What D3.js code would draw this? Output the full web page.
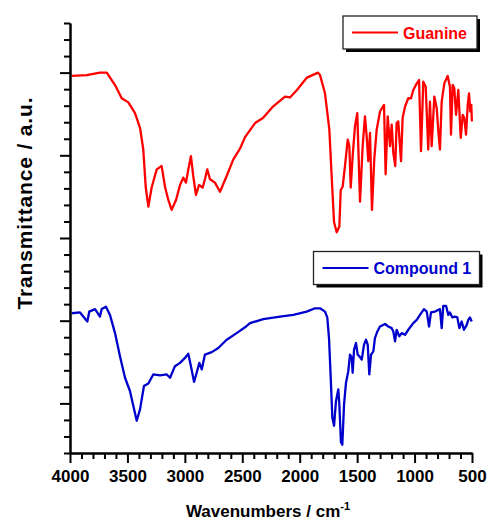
<!DOCTYPE html>
<html>
<head>
<meta charset="utf-8">
<script src="https://cdn.jsdelivr.net/npm/d3@7/dist/d3.min.js"></script>
<style>
  html, body { margin: 0; padding: 0; background: #ffffff; }
  svg { display: block; font-family: "Liberation Sans", Arial, sans-serif; }
</style>
</head>
<body>
<svg id="chart" width="489" height="520"></svg>
<script>
// FT-IR spectra: wavenumber (cm^-1) and transmittance (arbitrary units, offset)
const guanineWn = [3985,3855,3739,3680,3608,3550,3492,3434,3390,3362,3341,3318,3289,3245,3202,3173,3144,3115,3077,3042,3014,2990,2970,2947,2927,2903,2877,2845,2825,2805,2781,2738,2694,2636,2578,2520,2476,2389,2320,2233,2128,2085,2024,1937,1841,1823,1780,1742,1722,1701,1678,1655,1643,1626,1606,1582,1568,1556,1539,1519,1499,1475,1452,1432,1417,1403,1388,1371,1351,1330,1301,1266,1252,1234,1214,1199,1185,1168,1156,1142,1118,1104,1083,1055,1031,1011,981,961,944,924,903,881,866,851,828,807,793,779,764,741,712,692,683,668,654,639,619,598,581,567,552,537,526,515,506,501];
const guanineT  = [3.96,3.97,4.00,4.00,3.85,3.69,3.64,3.51,3.33,3.07,2.62,2.38,2.61,2.83,2.87,2.62,2.46,2.34,2.46,2.64,2.73,2.67,2.83,2.99,2.75,2.52,2.64,2.61,2.71,2.83,2.71,2.67,2.56,2.75,2.95,3.08,3.22,3.39,3.45,3.59,3.71,3.70,3.79,3.94,4.00,3.97,3.75,3.31,2.75,2.19,2.07,2.14,2.58,2.62,2.87,3.19,3.11,2.61,2.99,3.35,3.51,2.44,3.11,3.47,3.23,2.93,3.27,2.34,2.95,3.31,3.53,3.61,2.77,3.47,3.11,3.37,3.03,2.87,3.39,3.41,2.93,3.45,3.59,3.69,3.69,3.79,3.87,3.91,3.05,3.89,3.83,3.07,3.65,3.11,3.71,3.57,3.29,3.07,3.65,3.87,3.96,3.83,3.25,3.85,3.81,3.49,3.79,3.21,3.49,3.45,3.25,3.61,3.75,3.53,3.61,3.41];

const compoundWn = [3985,3913,3849,3832,3782,3739,3724,3687,3652,3608,3565,3521,3478,3449,3419,3390,3356,3318,3275,3216,3158,3129,3086,3042,2999,2970,2947,2920,2897,2874,2853,2825,2766,2709,2636,2549,2476,2433,2317,2172,2056,1939,1867,1823,1780,1760,1745,1730,1716,1701,1684,1664,1655,1641,1629,1614,1597,1577,1562,1547,1539,1527,1510,1495,1481,1460,1440,1423,1408,1394,1379,1359,1345,1324,1301,1257,1229,1199,1185,1170,1156,1133,1112,1083,1055,1011,981,953,918,894,874,857,822,779,764,750,726,706,692,671,648,628,610,590,570,546,532,518,502];
const compoundT  = [1.09,1.10,0.99,1.11,1.14,1.05,1.14,1.17,1.07,0.85,0.57,0.31,0.15,-0.03,-0.21,-0.07,0.21,0.24,0.35,0.34,0.35,0.31,0.45,0.49,0.55,0.60,0.45,0.26,0.37,0.49,0.41,0.59,0.62,0.67,0.77,0.85,0.92,0.97,1.02,1.05,1.07,1.11,1.15,1.15,1.11,1.04,0.79,0.31,-0.17,-0.27,0.03,0.17,-0.01,-0.47,-0.50,-0.01,0.25,0.39,0.59,0.55,0.37,0.65,0.73,0.59,0.57,0.53,0.71,0.77,0.71,0.35,0.59,0.63,0.79,0.87,0.93,0.96,0.93,0.91,0.87,0.75,0.89,0.81,0.85,0.83,0.89,0.97,1.01,1.07,1.14,1.11,0.93,1.10,1.11,1.14,0.91,1.18,1.18,1.07,1.10,1.04,1.05,1.04,0.91,0.99,0.89,0.95,1.01,1.04,0.99];

const seriesNames  = ["Guanine", "Compound 1"];
const seriesColors = ["#ff0000", "#0000cc"];

const xTickLabels = [4000, 3500, 3000, 2500, 2000, 1500, 1000, 500];
const yMajorTicks = [0, 1, 2, 3, 4];

const W = 489, H = 520;
const margin = { left: 70, right: 17, top: 23, bottom: 67 };

const svg = d3.select("#chart");

const x = d3.scaleLinear().domain([4000, 500]).range([margin.left, W - margin.right]);
const y = d3.scaleLinear().domain([-0.6, 4.6]).range([H - margin.bottom, margin.top]);

const xMinor = d3.range(4000, 499, -100).filter(v => !xTickLabels.includes(v));
const yMinor = d3.range(-6, 47, 2).map(v => v / 10).filter(v => !yMajorTicks.includes(v));

// Spectra
const line = d3.line().x(d => x(d[0])).y(d => y(d[1]));
const spectra = [
  d3.zip(guanineWn, guanineT),
  d3.zip(compoundWn, compoundT)
];
svg.append("g")
  .selectAll("path")
  .data(spectra)
  .join("path")
  .attr("d", line)
  .attr("fill", "none")
  .attr("stroke", (d, i) => seriesColors[i])
  .attr("stroke-width", 2.3)
  .attr("stroke-linejoin", "round");

// Axes
function styleAxis(g) {
  g.selectAll("path.domain").attr("stroke", "#000").attr("stroke-width", 2);
  g.selectAll(".tick line").attr("stroke", "#000").attr("stroke-width", 2);
}

const xAxisY = H - margin.bottom;
svg.append("g")
  .attr("transform", `translate(0,${xAxisY})`)
  .call(d3.axisBottom(x).tickValues(xMinor).tickSize(6).tickSizeOuter(0).tickFormat(""))
  .call(styleAxis);
svg.append("g")
  .attr("transform", `translate(0,${xAxisY})`)
  .call(d3.axisBottom(x).tickValues(xTickLabels).tickSize(10).tickSizeOuter(0).tickPadding(7).tickFormat(d3.format("d")))
  .call(styleAxis)
  .call(g => g.selectAll(".tick text")
    .attr("font-family", "'Liberation Sans', Arial, sans-serif")
    .attr("font-size", 17)
    .attr("font-weight", "bold")
    .attr("fill", "#000"));

svg.append("g")
  .attr("transform", `translate(${margin.left},0)`)
  .call(d3.axisLeft(y).tickValues(yMinor).tickSize(6).tickSizeOuter(0).tickFormat(""))
  .call(styleAxis);
svg.append("g")
  .attr("transform", `translate(${margin.left},0)`)
  .call(d3.axisLeft(y).tickValues(yMajorTicks).tickSize(10).tickSizeOuter(0).tickFormat(""))
  .call(styleAxis);

// Axis titles
const xTitle = svg.append("text")
  .attr("x", 268)
  .attr("y", 517)
  .attr("text-anchor", "middle")
  .attr("font-size", 17)
  .attr("font-weight", "bold")
  .attr("fill", "#000");
xTitle.append("tspan").text("Wavenumbers / cm");
xTitle.append("tspan").attr("dy", -7).attr("font-size", 11).text("-1");

svg.append("text")
  .attr("transform", `translate(31.5,${(97 + 310) / 2}) rotate(-90)`)
  .attr("text-anchor", "middle")
  .attr("font-size", 21)
  .attr("font-weight", "bold")
  .attr("fill", "#000")
  .attr("textLength", 212)
  .attr("lengthAdjust", "spacing")
  .text("Transmittance / a.u.");

// Legend boxes
const legends = [
  { x0: 343, y0: 16, w: 134, h: 33 },
  { x0: 313.5, y0: 251.5, w: 166, h: 33 }
];
legends.forEach((b, i) => {
  const g = svg.append("g");
  g.append("rect")
    .attr("x", b.x0 + 3).attr("y", b.y0 + 3)
    .attr("width", b.w).attr("height", b.h)
    .attr("fill", "#000");
  g.append("rect")
    .attr("x", b.x0).attr("y", b.y0)
    .attr("width", b.w).attr("height", b.h)
    .attr("fill", "#fff")
    .attr("stroke", "#222")
    .attr("stroke-width", 1.3);
  const ly = b.y0 + b.h / 2;
  g.append("line")
    .attr("x1", b.x0 + 9).attr("x2", b.x0 + 55)
    .attr("y1", ly).attr("y2", ly)
    .attr("stroke", seriesColors[i])
    .attr("stroke-width", 2.2);
  g.append("text")
    .attr("x", b.x0 + 60)
    .attr("y", ly + 6)
    .attr("font-size", 16)
    .attr("font-weight", "bold")
    .attr("fill", seriesColors[i])
    .text(seriesNames[i]);
});
</script>
</body>
</html>
